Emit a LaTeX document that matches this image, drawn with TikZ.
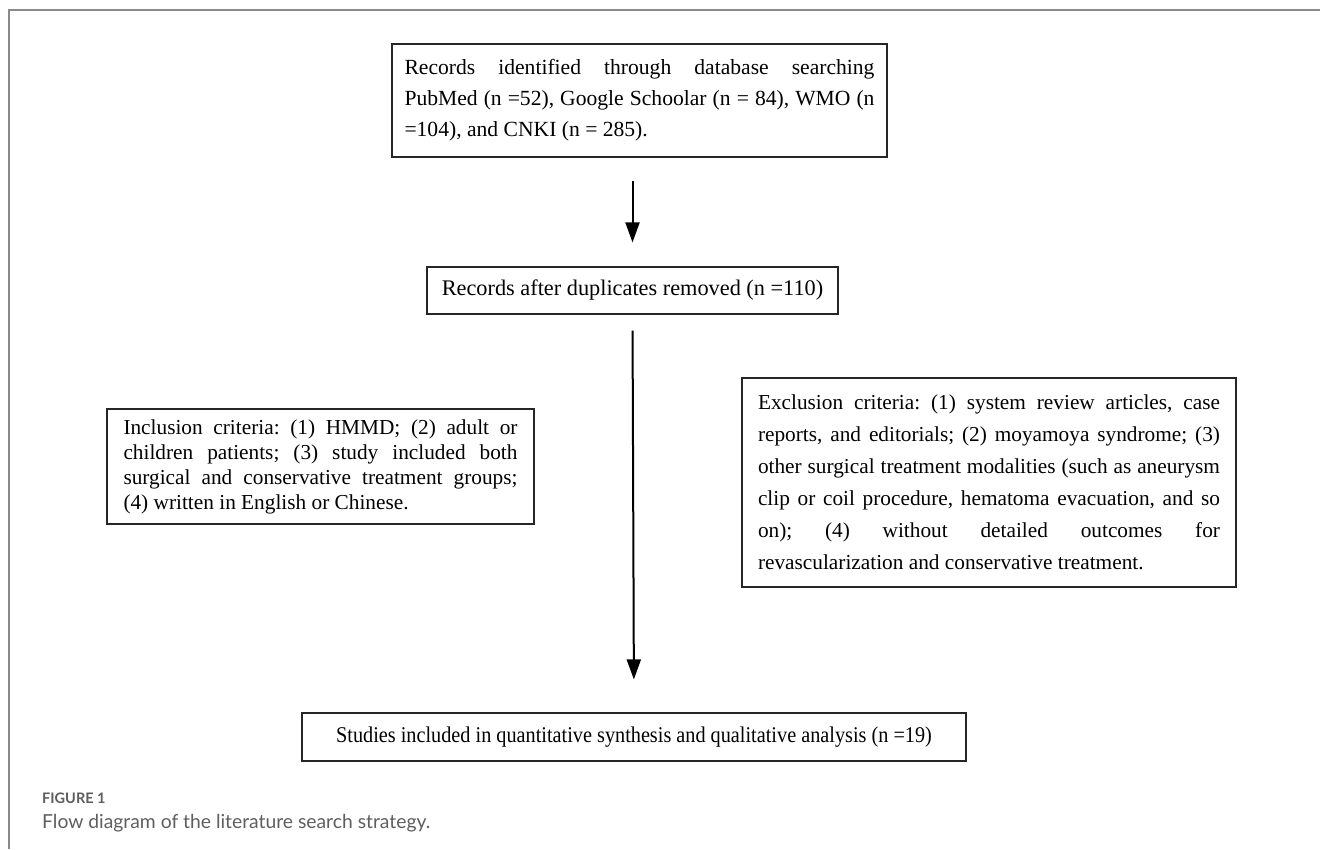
\documentclass[tikz,border=0pt]{standalone}
\usepackage{fontspec}
\setmainfont{Liberation Serif}
\newfontfamily\capfont{Lato}
\newfontfamily\condfont[FakeStretch=0.9]{Liberation Serif}
\usetikzlibrary{arrows.meta,calc}
\definecolor{framegray}{HTML}{8A8A8A}
\definecolor{capgray}{HTML}{5E5E5E}
\frenchspacing
\begin{document}
\begin{tikzpicture}[x=1pt,y=-1pt,
  box/.style={draw=black!85, line width=1.2pt, inner sep=0pt, align=justify},
  flow/.style={line width=2pt, -{Triangle[length=20pt,width=14pt]}},
  txt/.style={font=\fontsize{21.3}{25}\selectfont}]
\useasboundingbox (0,0) rectangle (1320,849);
\draw[framegray, line width=2.5pt] (9,849) -- (9,10) -- (1320,10);

\node[box, minimum width=495pt, minimum height=113pt, text width=470pt,
      font=\fontsize{21.6}{31}\selectfont] (b1) at (639.5,100.5)
 {\makebox[470pt][s]{Records identified through database searching}\\
  \makebox[470pt][s]{PubMed (n =52), Google Schoolar (n = 84), WMO (n}\\
  =104), and CNKI (n = 285).};

\node[box, minimum width=411pt, minimum height=47pt, align=center,
      font=\fontsize{22.3}{25}\selectfont] (b2) at (632.5,290.5)
 {Records after duplicates removed (n =110)};

\node[box, txt, minimum width=427pt, minimum height=115pt, text width=394pt] (inc) at (320.5,466.5)
 {\makebox[394pt][s]{Inclusion criteria: (1) HMMD; (2) adult or}\\
  \makebox[394pt][s]{children patients; (3) study included both}\\
  \makebox[394pt][s]{surgical and conservative treatment groups;}\\
  (4) written in English or Chinese.};

\node[box, minimum width=494pt, minimum height=209pt, text width=462pt,
      font=\fontsize{21.3}{32}\selectfont] (exc) at (989,482.5)
 {\makebox[462pt][s]{Exclusion criteria: (1) system review articles, case}\\
  \makebox[462pt][s]{reports, and editorials; (2) moyamoya syndrome; (3)}\\
  \makebox[462pt][s]{other surgical treatment modalities (such as aneurysm}\\
  \makebox[462pt][s]{clip or coil procedure, hematoma evacuation, and so}\\
  \makebox[462pt][s]{on); (4) without detailed outcomes for}\\
  revascularization and conservative treatment.};

\node[box, minimum width=664pt, minimum height=48pt, align=center,
      font=\condfont\fontsize{22.5}{25}\selectfont] (b3) at (634,737)
 {Studies included in quantitative synthesis and qualitative analysis (n =19)};

\draw[flow, shorten <=23pt, shorten >=24pt] (b1.south -| b2.north) -- (b2.north);
\draw[flow, shorten <=16pt, shorten >=33pt] (b2.south) -- (b3.north);

\node[anchor=base west, inner sep=0pt, text=capgray, font=\capfont\bfseries\fontsize{14.5}{16}\selectfont] (figlab) at (42,803) {FIGURE 1};
\node[anchor=base west, inner sep=0pt, text=capgray, font=\capfont\fontsize{19.3}{21}\selectfont] (figcap) at (42,828) {Flow diagram of the literature search strategy.};
\end{tikzpicture}
\end{document}
